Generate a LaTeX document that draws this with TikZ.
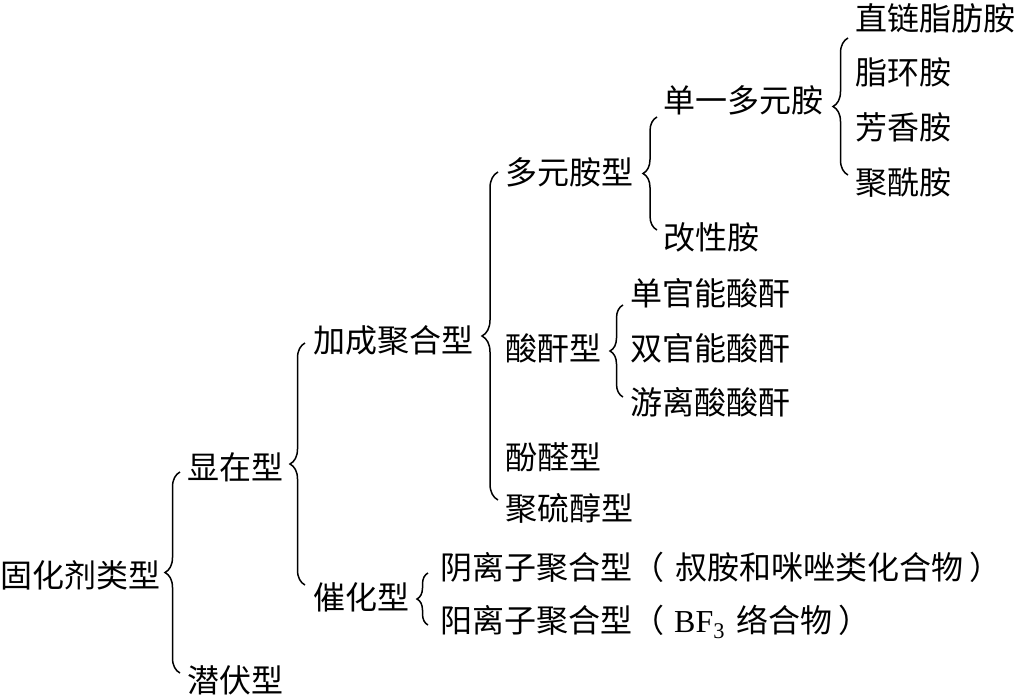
\documentclass[tikz,border=0pt]{standalone}
\usepackage{fontspec}
\setmainfont{Noto Sans CJK SC}
\newfontfamily\latinserif{Liberation Serif}
\usetikzlibrary{calc,decorations.pathreplacing}
\tikzset{
  item/.style={anchor=west, inner sep=0pt, font=\fontsize{32}{36}\selectfont},
  curly/.style={decorate, decoration={brace, amplitude=#1}, line width=1.5pt},
  curly/.default=14pt
}

\begin{document}
\begin{tikzpicture}[x=1pt,y=-1pt]
\useasboundingbox (0,0) rectangle (1018,697);
\node[item] (gh) at (0,575) {固化剂类型};
\node[item] (xz) at (187,467) {显在型};
\node[item] (qf) at (187,680) {潜伏型};
\node[item] (jc) at (313,340) {加成聚合型};
\node[item] (ch) at (313,597) {催化型};
\node[item] (dy) at (505,172) {多元胺型};
\node[item] (sg) at (505,348) {酸酐型};
\node[item] (fq) at (505,457) {酚醛型};
\node[item] (ls) at (505,508) {聚硫醇型};
\node[item] (dd) at (663,100) {单一多元胺};
\node[item] (gx) at (663,237) {改性胺};
\node[item] (zl) at (855,18) {直链脂肪胺};
\node[item] (zh) at (855,72) {脂环胺};
\node[item] (fx) at (855,127) {芳香胺};
\node[item] (jx) at (855,182) {聚酰胺};
\node[item] (dg) at (630,293) {单官能酸酐};
\node[item] (sgn) at (630,348) {双官能酸酐};
\node[item] (yl) at (630,402) {游离酸酸酐};
\node[item] (yin) at (440,567) {阴离子聚合型（\hspace{11pt}叔胺和咪唑类化合物\hspace{6pt}）};
\node[item] (yang) at (440,622) {阳离子聚合型（\hspace{10pt}{\latinserif BF\textsubscript{3}}\hspace{4pt} 络合物\hspace{6pt}）};
% braces, drawn bottom to top
\draw[curly=15pt] ($(qf.west)+(-7,-7)$) -- ($(xz.west)+(-7,5)$);
\draw[curly=15pt] ($(ch.west)+(-8,-12)$) -- ($(jc.west)+(-8,3)$);
\draw[curly=16pt] ($(ls.west)+(-7,-8)$) -- ($(dy.west)+(-7,0)$);
\draw[curly=11pt] ($(yang.west)+(-12,3)$) -- ($(yin.west)+(-12,6)$);
\draw[curly=14pt] ($(gx.west)+(-6,-7)$) -- ($(dd.west)+(-6,17)$);
\draw[curly=15pt] ($(jx.west)+(-7,-7)$) -- ($(zl.west)+(-7,20)$);
\draw[curly=13pt] ($(yl.west)+(-7,-5)$) -- ($(dg.west)+(-7,12)$);
\end{tikzpicture}
\end{document}
